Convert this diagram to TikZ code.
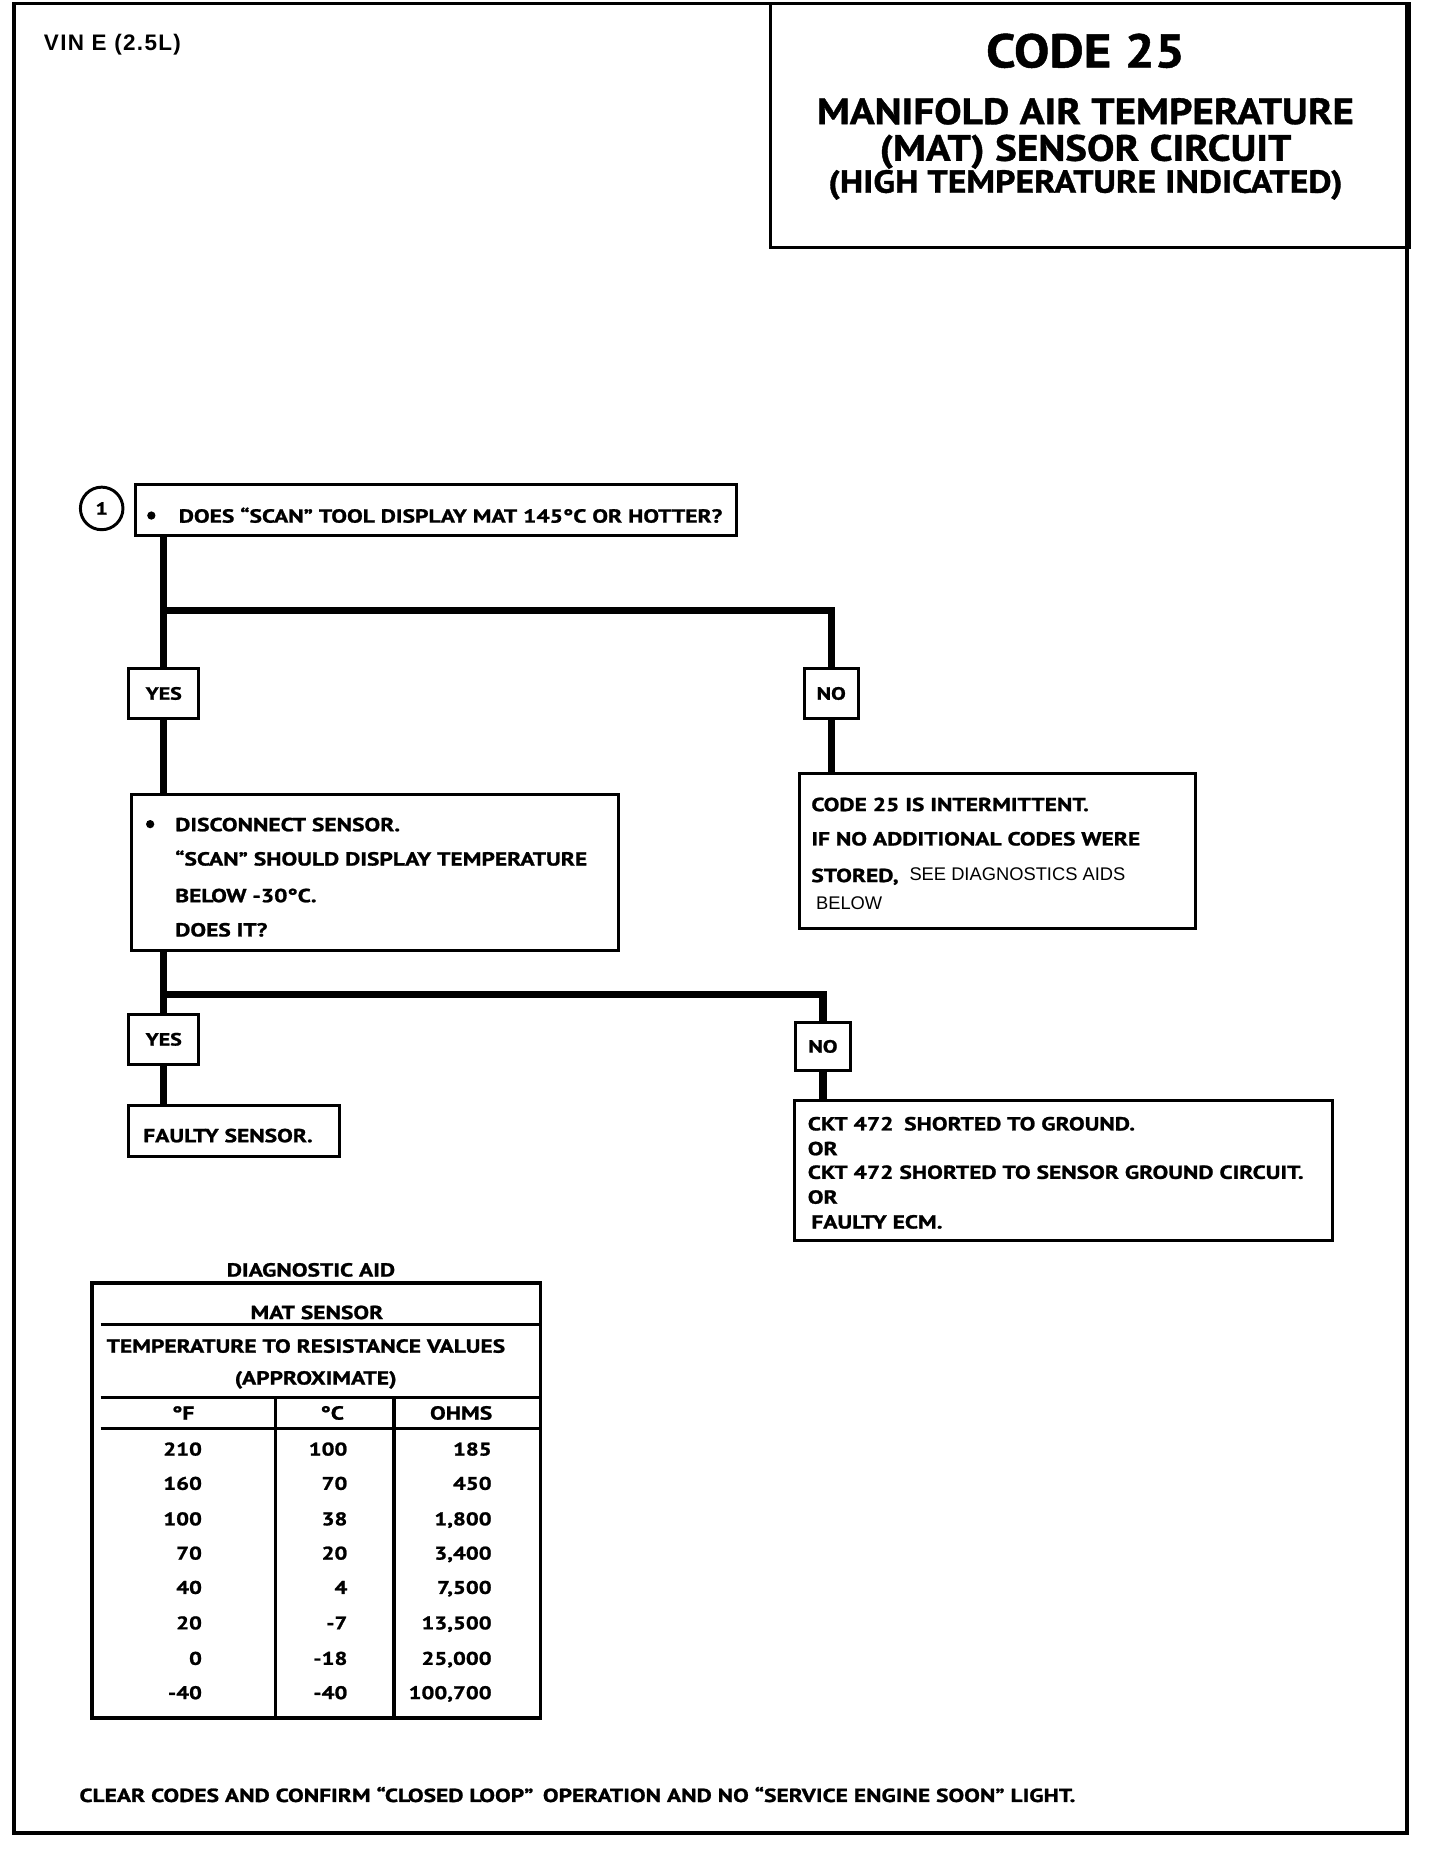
\documentclass[tikz,border=0pt]{standalone}
\usepackage{fontspec}
\setmainfont{PT Sans}[FakeStretch=1.24, BoldFeatures={FakeBold=1.2}]
\newfontfamily\titlefont{PT Sans}[FakeStretch=1.12, BoldFeatures={FakeBold=1}]
\newfontfamily\arialfont{Liberation Sans}
\newfontfamily\vinfont{Liberation Sans}[LetterSpace=6]
\usetikzlibrary{positioning}
\tikzset{
	box/.style={draw, line width=2.5pt, inner sep=0pt},
	answer/.style={box, font=\bfseries\fontsize{15}{15}\selectfont},
	wire/.style={line width=6pt},
	rule/.style={line width=3pt},
	txt/.style={anchor=base west, inner sep=0pt, font=\bfseries\fontsize{16}{18}\selectfont},
	num/.style={anchor=base east, inner sep=0pt, font=\bfseries\fontsize{15.5}{18}\selectfont},
	mid/.style={inner sep=0pt, font=\bfseries\fontsize{16}{18}\selectfont},
	dot/.style={circle, fill, inner sep=0pt, minimum size=7pt}
}

\begin{document}
\begin{tikzpicture}[x=1pt, y=-1pt]
	\useasboundingbox (0,0) rectangle (1218,1568);

	% Page frame and title block
	\draw[line width=3pt] (12,3) -- (1190,3) -- (1190,1550) -- (12,1550) -- cycle;
	\node[box, minimum width=540pt, minimum height=206pt] (title) at (922,106) {};
	\node[anchor=base west, inner sep=0pt, font=\vinfont\bfseries\fontsize{19}{20}\selectfont] (vin) at (37,43) {VIN E (2.5L)};
	\node[anchor=base, inner sep=0pt, font=\titlefont\bfseries\fontsize{40}{40}\selectfont] (code) at (918,57) {CODE 25};
	\node[anchor=base, inner sep=0pt, font=\titlefont\bfseries\fontsize{31}{31}\selectfont] (name1) at (918,105) {MANIFOLD AIR TEMPERATURE};
	\node[anchor=base, inner sep=0pt, font=\titlefont\bfseries\fontsize{31}{31}\selectfont] (name2) at (918,136) {(MAT) SENSOR CIRCUIT};
	\node[anchor=base, inner sep=0pt, font=\titlefont\bfseries\fontsize{27}{27}\selectfont] (name3) at (918,163) {(HIGH TEMPERATURE INDICATED)};

	% First check
	\node[draw, circle, line width=2.5pt, minimum size=36pt, inner sep=0pt, font=\bfseries\fontsize{15}{15}\selectfont] (num1) at (86,430) {1};
	\node[box, minimum width=508pt, minimum height=43pt] (q1) at (369,431.5) {};
	\node[dot] (q1b) at (128,436) {};
	\node[txt] (q1t) at (151,442) {DOES ``SCAN'' TOOL DISPLAY MAT 145°C OR HOTTER?};

	\node[answer, minimum width=59pt, minimum height=43pt] (yes1) at (138.5,586.5) {YES};
	\node[answer, minimum width=46pt, minimum height=43pt] (no1) at (703,586.5) {NO};

	% Second check
	\node[box, minimum width=412pt, minimum height=132pt] (q2) at (317,738) {};
	\node[dot] (q2b) at (127,697) {};
	\node[txt] (q2t1) at (148,703) {DISCONNECT SENSOR.};
	\node[txt] (q2t2) at (148,732) {``SCAN'' SHOULD DISPLAY TEMPERATURE};
	\node[txt] (q2t3) at (148,763) {BELOW -30°C.};
	\node[txt] (q2t4) at (148,792) {DOES IT?};

	% Intermittent result
	\node[box, minimum width=335pt, minimum height=131pt] (res1) at (843.5,719.5) {};
	\node[txt] (res1t1) at (686,686) {CODE 25 IS INTERMITTENT.};
	\node[txt] (res1t2) at (686,715) {IF NO ADDITIONAL CODES WERE};
	\node[txt] (res1t3) at (686,746) {STORED,};
	\node[anchor=base west, inner sep=0pt, font=\arialfont\fontsize{15.5}{17}\selectfont] (res1t4) at (769,745) {SEE DIAGNOSTICS AIDS};
	\node[anchor=base west, inner sep=0pt, font=\arialfont\fontsize{15.5}{17}\selectfont] (res1t5) at (690,769) {BELOW};

	\node[answer, minimum width=59pt, minimum height=42pt] (yes2) at (138.5,879) {YES};
	\node[answer, minimum width=47pt, minimum height=40pt] (no2) at (696,885) {NO};

	% Final results
	\node[box, minimum width=178pt, minimum height=43pt] (res2) at (198,956.5) {};
	\node[txt] (res2t) at (121,966) {FAULTY SENSOR.};

	\node[box, minimum width=455pt, minimum height=118pt] (res3) at (899.5,990) {};
	\node[txt] (res3t1) at (683,956) {CKT 472\hspace{9pt}SHORTED TO GROUND.};
	\node[txt] (res3t2) at (683,977) {OR};
	\node[txt] (res3t3) at (683,997) {CKT 472 SHORTED TO SENSOR GROUND CIRCUIT.};
	\node[txt] (res3t4) at (683,1018) {OR};
	\node[txt] (res3t5) at (686,1039) {FAULTY ECM.};

	% Connectors
	\coordinate (j1) at (138.5,516);
	\coordinate (j2) at (138.5,841);
	\draw[wire] (q1.south -| j1) -- (yes1.north);
	\draw[wire] (j1) -| (no1.north);
	\draw[wire] (yes1.south) -- (yes1.south |- q2.north);
	\draw[wire] (no1.south) -- (no1.south |- res1.north);
	\draw[wire] (q2.south -| j2) -- (yes2.north);
	\draw[wire] (j2) -| (no2.north);
	\draw[wire] (yes2.south) -- (yes2.south |- res2.north);
	\draw[wire] (no2.south) -- (no2.south |- res3.north);

	% Diagnostic aid table
	\node[mid] (aidt) at (263,1074) {DIAGNOSTIC AID};
	\node[draw, line width=3pt, minimum width=379pt, minimum height=368pt, inner sep=0pt] (aid) at (267.5,1269) {};
	\draw[rule] (85,1120) -- (457,1120);
	\draw[rule] (85,1182) -- (457,1182);
	\draw[rule] (85,1208) -- (457,1208);
	\draw[rule] (233,1182) -- (233,1453);
	\draw[rule] (333,1182) -- (333,1453);
	\node[mid] (aid1) at (268,1110) {MAT SENSOR};
	\node[txt] (aid2) at (90,1144) {TEMPERATURE TO RESISTANCE VALUES};
	\node[mid] (aid3) at (267,1167) {(APPROXIMATE)};
	\node[mid] (hf) at (155,1195) {°F};
	\node[mid] (hc) at (281,1195) {°C};
	\node[mid] (ho) at (390,1195) {OHMS};

	\node[num] (f1) at (171,1231) {210}; \node[num] (c1) at (294,1231) {100}; \node[num] (r1) at (416,1231) {185};
	\node[num] (f2) at (171,1260) {160}; \node[num] (c2) at (294,1260) {70}; \node[num] (r2) at (416,1260) {450};
	\node[num] (f3) at (171,1290) {100}; \node[num] (c3) at (294,1290) {38}; \node[num] (r3) at (416,1290) {1,800};
	\node[num] (f4) at (171,1319) {70}; \node[num] (c4) at (294,1319) {20}; \node[num] (r4) at (416,1319) {3,400};
	\node[num] (f5) at (171,1348) {40}; \node[num] (c5) at (294,1348) {4}; \node[num] (r5) at (416,1348) {7,500};
	\node[num] (f6) at (171,1378) {20}; \node[num] (c6) at (294,1378) {-7}; \node[num] (r6) at (416,1378) {13,500};
	\node[num] (f7) at (171,1408) {0}; \node[num] (c7) at (294,1408) {-18}; \node[num] (r7) at (416,1408) {25,000};
	\node[num] (f8) at (171,1437) {-40}; \node[num] (c8) at (294,1437) {-40}; \node[num] (r8) at (416,1437) {100,700};

	% Closing instruction
	\node[txt] (clear) at (67,1524) {CLEAR CODES AND CONFIRM ``CLOSED LOOP''\hspace{8pt}OPERATION AND NO ``SERVICE ENGINE SOON'' LIGHT.};

\end{tikzpicture}
\end{document}
